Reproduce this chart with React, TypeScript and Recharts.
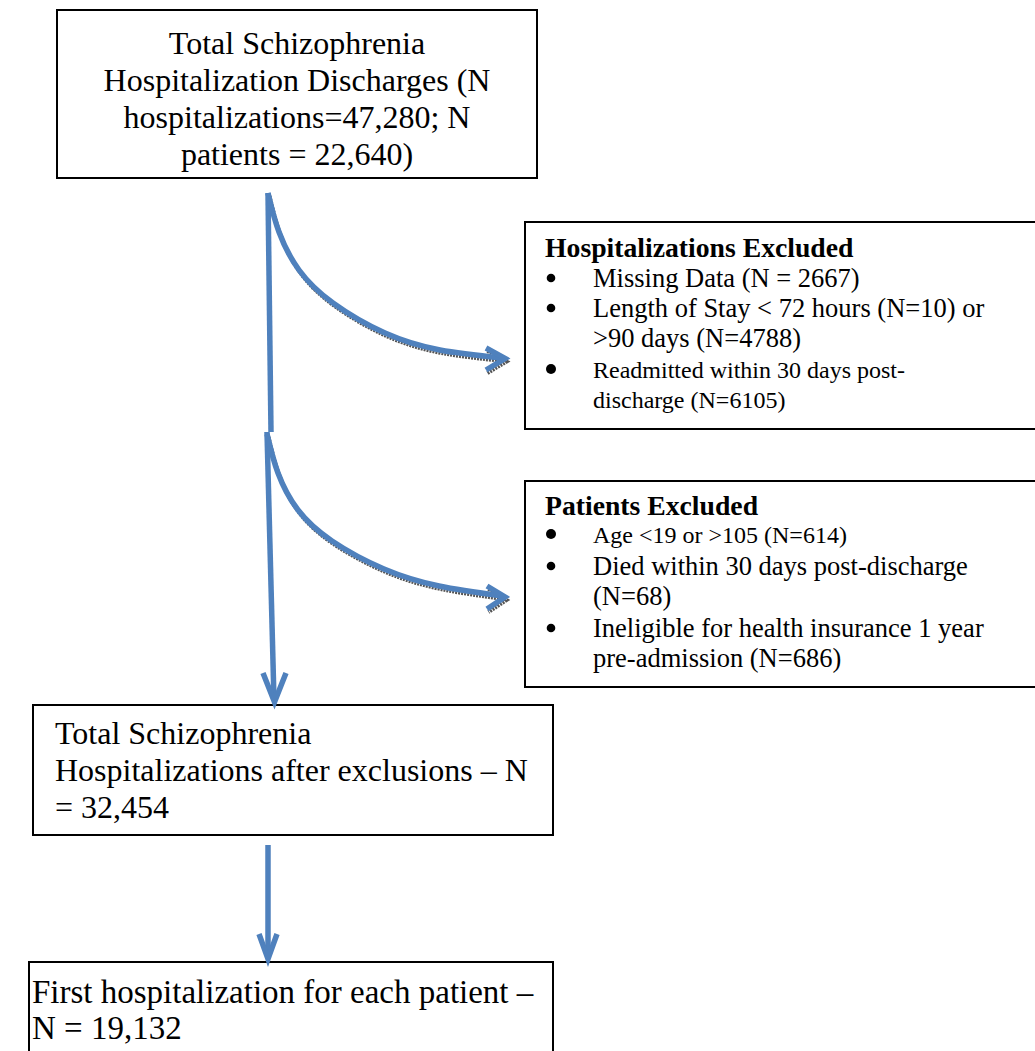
import React from 'react';
import { ComposedChart, Line, XAxis, YAxis, ReferenceArea } from 'recharts';

const WIDTH = 1035;
const HEIGHT = 1051;
const BLUE = '#4f81bd';
const FONT = '"Liberation Serif", "Times New Roman", serif';

// box texts
const cohortLines = [
  'Total Schizophrenia',
  'Hospitalization Discharges (N',
  'hospitalizations=47,280; N',
  'patients = 22,640)',
];
const hospTitle = 'Hospitalizations Excluded';
const hospItems = [
  { lines: ['Missing Data (N = 2667)'], times: false },
  { lines: ['Length of Stay < 72 hours (N=10) or', '>90 days (N=4788)'], times: false },
  { lines: ['Readmitted within 30 days post-', 'discharge (N=6105)'], times: true },
];
const patientTitle = 'Patients Excluded';
const patientItems = [
  { lines: ['Age <19 or >105 (N=614)'], times: true },
  { lines: ['Died within 30 days post-discharge', '(N=68)'], times: false },
  { lines: ['Ineligible for health insurance 1 year', 'pre-admission (N=686)'], times: false },
];
const afterLines = ['Total Schizophrenia', 'Hospitalizations after exclusions – N', '= 32,454'];
const finalLines = ['First hospitalization for each patient –', 'N = 19,132'];

// arrows (x, y in page units)
const trunkTop = [{ x: 268, y: 193 }, { x: 271, y: 432 }];
const trunkBottom = [{ x: 267, y: 432 }, { x: 274, y: 700 }];
const trunkHead = [{ x: 263, y: 673 }, { x: 274.5, y: 702 }, { x: 286, y: 673 }];
const curveOne = [
  { x: 268, y: 193 }, { x: 279, y: 232 }, { x: 299, y: 270 }, { x: 333, y: 303 },
  { x: 385, y: 333 }, { x: 440, y: 350 }, { x: 502, y: 358 },
];
const headOne = [{ x: 486, y: 348 }, { x: 505, y: 358.5 }, { x: 486, y: 370 }];
const curveTwo = [
  { x: 267, y: 434 }, { x: 278, y: 473 }, { x: 298, y: 510 }, { x: 332, y: 541 },
  { x: 384, y: 569 }, { x: 439, y: 586 }, { x: 502, y: 596 },
];
const headTwo = [{ x: 487, y: 586 }, { x: 505, y: 597 }, { x: 487, y: 609 }];
const lowerArrow = [{ x: 268, y: 845 }, { x: 268, y: 958 }];
const lowerHead = [{ x: 259, y: 934 }, { x: 268, y: 959 }, { x: 277, y: 934 }];

const shifted = (pts: { x: number; y: number }[]) => pts.map((p) => ({ x: p.x + 1.5, y: p.y + 3 }));

type TextLine = { text: string; dx: number; dy: number; size: number; bold?: boolean; anchor?: 'start' | 'middle'; bullet?: boolean };

const centered = (lines: string[], cx: number, top: number, gap: number, size: number): TextLine[] =>
  lines.map((text, i) => ({ text, dx: cx, dy: top + i * gap, size, anchor: 'middle' }));

const leftLines = (lines: string[], dx: number, top: number, gap: number, size: number): TextLine[] =>
  lines.map((text, i) => ({ text, dx, dy: top + i * gap, size }));

const bulletList = (title: string, items: { lines: string[]; times: boolean }[], titleDy: number, starts: number[]) => {
  const out: TextLine[] = [{ text: title, dx: 20, dy: titleDy, size: 27.7, bold: true }];
  items.forEach((item, i) => {
    const size = item.times ? 24 : 26.5;
    out.push({ text: '', dx: 26, dy: starts[i], size: item.times ? 5 : 4.3, bullet: true });
    item.lines.forEach((text, j) => out.push({ text, dx: 68, dy: starts[i] + j * 30, size }));
  });
  return out;
};

const boxShape = (lines: TextLine[]) => (props: any) => {
  const { x, y, width, height } = props;
  return (
    <g>
      <rect x={x} y={y} width={width} height={height} fill="none" stroke="#000" strokeWidth={2} />
      {lines.map((l, i) =>
        l.bullet ? (
          <circle key={i} cx={x + l.dx} cy={y + l.dy - 9} r={l.size} fill="#000" />
        ) : (
          <text
            key={i}
            x={x + l.dx}
            y={y + l.dy}
            fontFamily={FONT}
            fontSize={l.size}
            fontWeight={l.bold ? 'bold' : 'normal'}
            textAnchor={l.anchor || 'start'}
            fill="#000"
          >
            {l.text}
          </text>
        )
      )}
    </g>
  );
};

const arrowLine = (data: { x: number; y: number }[], key: string, shadow = false) => (
  <Line
    key={key}
    data={shadow ? shifted(data) : data}
    dataKey="y"
    type={data.length > 3 ? 'natural' : 'linear'}
    stroke={shadow ? '#555555' : BLUE}
    strokeWidth={shadow ? 4 : 5.5}
    strokeDasharray={shadow ? '2 1' : undefined}
    strokeLinejoin="miter"
    dot={false}
    activeDot={false}
    isAnimationActive={false}
  />
);

export default function App() {
  return (
    <div style={{ position: 'absolute', left: 0, top: 0, width: WIDTH, height: HEIGHT, overflow: 'hidden', background: '#fff' }}>
      <ComposedChart width={WIDTH} height={HEIGHT} margin={{ top: 0, right: 0, bottom: 0, left: 0 }}>
        <XAxis type="number" dataKey="x" domain={[0, WIDTH]} hide allowDataOverflow />
        <YAxis type="number" domain={[0, HEIGHT]} reversed hide allowDataOverflow />

        <ReferenceArea x1={57} x2={537} y1={10} y2={178} ifOverflow="visible"
          shape={boxShape(centered(cohortLines, 240, 44, 37, 32))} />
        <ReferenceArea x1={525} x2={1045} y1={222} y2={429} ifOverflow="visible"
          shape={boxShape(bulletList(hospTitle, hospItems, 35, [65, 95, 156]))} />
        <ReferenceArea x1={525} x2={1045} y1={481} y2={687} ifOverflow="visible"
          shape={boxShape(bulletList(patientTitle, patientItems, 34, [62, 94, 156]))} />
        <ReferenceArea x1={33} x2={553} y1={705} y2={835} ifOverflow="visible"
          shape={boxShape(leftLines(afterLines, 22, 39, 37, 32))} />
        <ReferenceArea x1={29} x2={553} y1={962} y2={1070} ifOverflow="visible"
          shape={boxShape(leftLines(finalLines, 3, 41, 36, 33))} />

        {arrowLine(curveOne, 'c1s', true)}
        {arrowLine(headOne, 'h1s', true)}
        {arrowLine(curveTwo, 'c2s', true)}
        {arrowLine(headTwo, 'h2s', true)}
        {arrowLine(trunkTop, 't1')}
        {arrowLine(trunkBottom, 't2')}
        {arrowLine(trunkHead, 'th')}
        {arrowLine(curveOne, 'c1')}
        {arrowLine(headOne, 'h1')}
        {arrowLine(curveTwo, 'c2')}
        {arrowLine(headTwo, 'h2')}
        {arrowLine(lowerArrow, 'la')}
        {arrowLine(lowerHead, 'lh')}
      </ComposedChart>
    </div>
  );
}
